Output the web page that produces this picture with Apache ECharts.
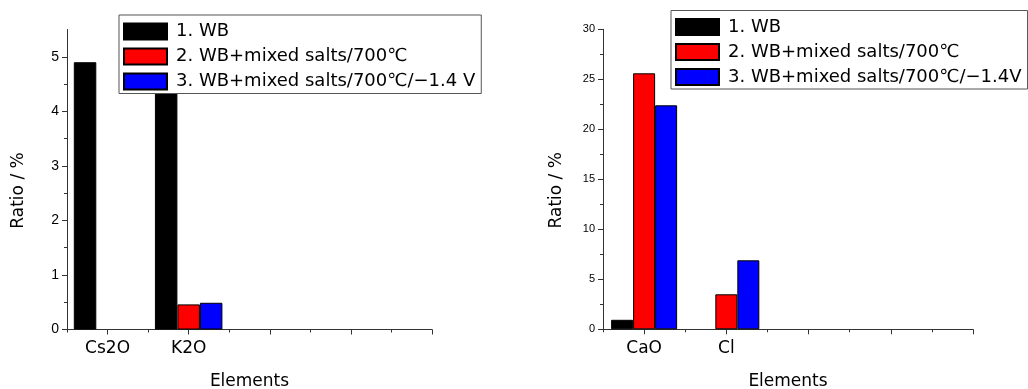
<!DOCTYPE html>
<html>
<head>
<meta charset="utf-8">
<script src="https://cdn.jsdelivr.net/npm/echarts@6/dist/echarts.min.js"></script>
<style>
  html, body { margin: 0; padding: 0; background: #fff; }
  #chart { width: 1028px; height: 389px; }
</style>
</head>
<body>
<div id="chart"></div>
<script>
// series names (the right panel legend has no space before V)
const namesLeft = ['1. WB', '2. WB+mixed salts/700℃', '3. WB+mixed salts/700℃/−1.4 V'];
const namesRight = ['1. WB', '2. WB+mixed salts/700℃', '3. WB+mixed salts/700℃/−1.4V'];
const colors = ['#000000', '#ff0000', '#0000ff'];

// left panel (null = no bar)
const leftCategories = ['Cs2O', 'K2O', '', '', ''];
const leftWB = [4.9, 4.6];
const leftSalt = [null, 0.46];
const leftSaltV = [null, 0.49];
const leftYMax = 5.5;
const leftYStep = 1;

// right panel
const rightCategories = ['CaO', 'Cl', '', '', ''];
const rightWB = [0.95, null];
const rightSalt = [25.6, 3.5];
const rightSaltV = [22.4, 6.9];
const rightYMax = 30;
const rightYStep = 5;

const font = 'DejaVu Sans';
const axisColor = '#333';

// value axis carries the labels, two overlaid category axes draw long/short ticks
function xAxes(g, cats) {
  const n = cats.length;
  const slots = [];
  for (let k = 0; k < 2 * n; k++) slots.push('s' + k);
  const base = {
    type: 'category', gridIndex: g, data: slots, boundaryGap: false, position: 'bottom',
    axisLine: { show: false, onZero: false }, axisLabel: { show: false }, splitLine: { show: false }
  };
  return [
    {
      type: 'value', gridIndex: g, min: 0.5, max: n, interval: 0.5, position: 'bottom',
      name: 'Elements', nameLocation: 'middle', nameGap: 44,
      nameTextStyle: { fontSize: 17, fontFamily: font, color: '#000' },
      axisLine: { onZero: false, lineStyle: { color: axisColor, width: 1 } },
      axisTick: { show: false }, splitLine: { show: false },
      axisLabel: {
        margin: 11, fontSize: 17, fontFamily: font, color: '#000',
        formatter: v => (Number.isInteger(v) ? cats[v - 1] : '')
      }
    },
    Object.assign({}, base, { axisTick: { length: 5, interval: i => i % 2 === 1, lineStyle: { color: axisColor } } }),
    Object.assign({}, base, { axisTick: { length: 3, interval: i => i % 2 === 0, lineStyle: { color: axisColor } } })
  ];
}

function yAxes(g, max, step, labelSize, nameGap) {
  const slots = [];
  for (let k = 0; k * step / 2 <= max + 1e-9; k++) slots.push('s' + k);
  const base = {
    type: 'category', gridIndex: g, data: slots, boundaryGap: false, position: 'left',
    axisLine: { show: false, onZero: false }, axisLabel: { show: false }, splitLine: { show: false }
  };
  return [
    {
      type: 'value', gridIndex: g, min: 0, max: max, interval: step / 2, position: 'left',
      name: 'Ratio / %', nameLocation: 'middle', nameGap: nameGap,
      nameTextStyle: { fontSize: 17, fontFamily: font, color: '#000', padding: [0, 22, 0, 0] },
      axisLine: { show: true, onZero: false, lineStyle: { color: axisColor, width: 1 } },
      axisTick: { show: false }, splitLine: { show: false },
      axisLabel: {
        margin: 8, fontSize: labelSize, fontFamily: 'Liberation Sans', color: '#000',
        formatter: v => (Math.abs(v / step - Math.round(v / step)) < 1e-6 ? String(v) : '')
      }
    },
    Object.assign({}, base, { axisTick: { length: 5, interval: i => i % 2 === 0 && i * step / 2 <= max, lineStyle: { color: axisColor } } }),
    Object.assign({}, base, { axisTick: { length: 3, interval: i => i % 2 === 1 && i * step / 2 < max, lineStyle: { color: axisColor } } })
  ];
}

function legend(names, left, top) {
  return {
    orient: 'vertical', left: left, top: top, data: names, icon: 'rect',
    itemWidth: 43, itemHeight: 16, itemGap: 7, selectedMode: false,
    padding: [7.5, 6, 3, 4], borderColor: '#555', borderWidth: 1, backgroundColor: '#fff',
    textStyle: { fontSize: 18, fontFamily: font, color: '#000', padding: [0, 0, 0, 4] }
  };
}

function bars(g, names, values, width) {
  return values.map((vals, s) => ({
    type: 'bar', name: names[s], xAxisIndex: g * 3, yAxisIndex: g * 3,
    barWidth: width, barGap: '0%',
    itemStyle: { color: colors[s], borderColor: '#000', borderWidth: 1 },
    data: vals.map((v, i) => [i + 1, v])
  }));
}

const chart = echarts.init(document.getElementById('chart'), null, { renderer: 'canvas' });
chart.setOption({
  animation: false,
  backgroundColor: '#fff',
  grid: [
    { left: 67, top: 29.5, width: 365, height: 300, outerBoundsMode: 'none', containLabel: false },
    { left: 603, top: 29.3, width: 370, height: 300, outerBoundsMode: 'none', containLabel: false }
  ],
  legend: [legend(namesLeft, 119, 15), legend(namesRight, 671, 10.5)],
  xAxis: xAxes(0, leftCategories).concat(xAxes(1, rightCategories)),
  yAxis: yAxes(0, leftYMax, leftYStep, 14, 40).concat(yAxes(1, rightYMax, rightYStep, 11, 38)),
  series: bars(0, namesLeft, [leftWB, leftSalt, leftSaltV], 22.5)
    .concat(bars(1, namesRight, [rightWB, rightSalt, rightSaltV], 22))
});
</script>
</body>
</html>
